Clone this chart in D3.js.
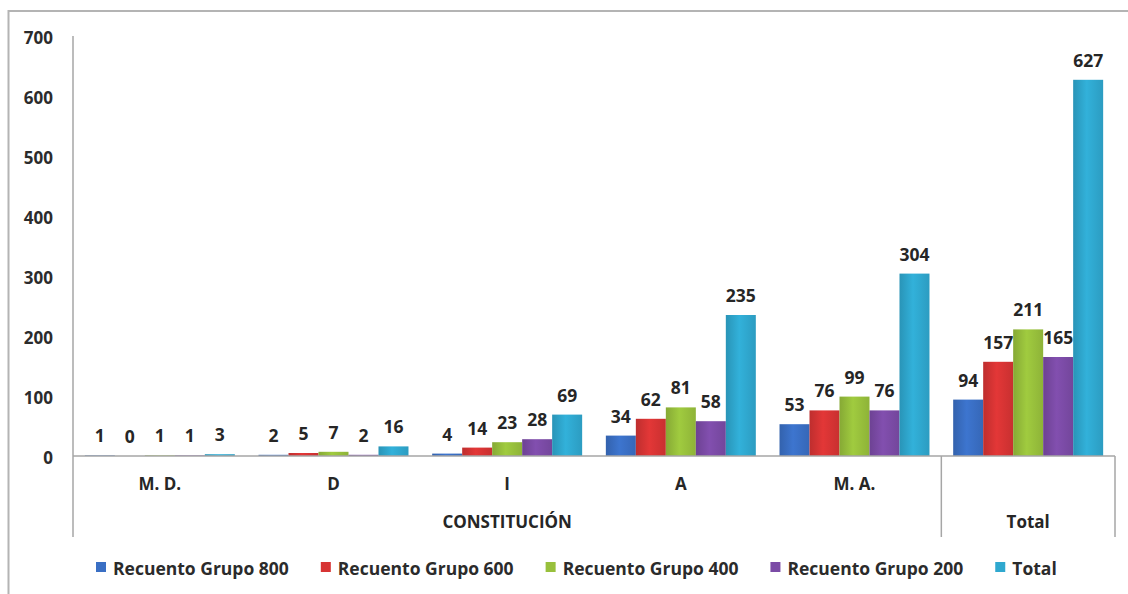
<!DOCTYPE html>
<html>
<head>
<meta charset="utf-8">
<script src="https://cdn.jsdelivr.net/npm/d3@7"></script>
<style>
  html, body { margin: 0; padding: 0; background: #fff; }
  svg { display: block; }
  text { font-family: "Open Sans", "DejaVu Sans", sans-serif; font-weight: 700; }
</style>
</head>
<body>
<svg id="chart" width="1128" height="594"></svg>
<script>
// Categories of the inner axis level
const categories = ["M. D.", "D", "I", "A", "M. A.", "Total"];
// Outer axis level: label and how many inner categories it spans
const outerGroups = ["CONSTITUCIÓN", "Total"];
const outerSpans = [5, 1];

// Series
const seriesNames = ["Recuento Grupo 800", "Recuento Grupo 600", "Recuento Grupo 400", "Recuento Grupo 200", "Total"];
const grupo800 = [1, 2, 4, 34, 53, 94];
const grupo600 = [0, 5, 14, 62, 76, 157];
const grupo400 = [1, 7, 23, 81, 99, 211];
const grupo200 = [1, 2, 28, 58, 76, 165];
const totalSerie = [3, 16, 69, 235, 304, 627];

// Y axis ticks
const yTicks = [0, 100, 200, 300, 400, 500, 600, 700];

const seriesValues = [grupo800, grupo600, grupo400, grupo200, totalSerie];
const seriesColors = ["#3a6fc4", "#d73434", "#98c03c", "#7b4ba6", "#2fa8cf"];

const svg = d3.select("#chart");

// Outer frame of the chart object
svg.append("rect")
  .attr("x", 8.5).attr("y", 11)
  .attr("width", 1300).attr("height", 700)
  .attr("fill", "none").attr("stroke", "#b4b4b4").attr("stroke-width", 2);

const plotLeft = 73, plotRight = 1115, plotTop = 36, plotBottom = 456, axisBottom = 537;

const x0 = d3.scaleBand().domain(categories).range([plotLeft, plotRight]).paddingInner(0).paddingOuter(0);
const x1 = d3.scaleBand().domain(d3.range(seriesNames.length)).range([0, x0.bandwidth()])
  .paddingInner(0).paddingOuter(0.395);
const y = d3.scaleLinear().domain([0, 700]).range([plotBottom, plotTop]);

// Horizontal shading on each bar
const defs = svg.append("defs");
seriesColors.forEach((c, i) => {
  const base = d3.color(c);
  const g = defs.append("linearGradient").attr("id", "grad" + i)
    .attr("x1", "0%").attr("x2", "100%").attr("y1", "0%").attr("y2", "0%");
  g.append("stop").attr("offset", "0%").attr("stop-color", base.darker(0.35));
  g.append("stop").attr("offset", "45%").attr("stop-color", base.brighter(0.15));
  g.append("stop").attr("offset", "100%").attr("stop-color", base.darker(0.2));
});

// Y axis labels
const yAxis = d3.axisLeft(y).tickValues(yTicks).tickSize(0).tickPadding(20);
const yg = svg.append("g").attr("transform", `translate(${plotLeft},0)`).call(yAxis);
yg.select(".domain").remove();
yg.selectAll("text")
  .attr("font-family", "'Open Sans', sans-serif")
  .attr("font-weight", 700)
  .attr("font-size", 17)
  .attr("fill", "#2b2b2b")
  .attr("dy", "0.45em");

// Bars
const catG = svg.append("g").selectAll("g").data(categories).join("g")
  .attr("transform", d => `translate(${x0(d)},0)`);

catG.selectAll("rect")
  .data((d, ci) => seriesValues.map((vals, si) => ({ si, v: vals[ci] })))
  .join("rect")
  .attr("x", d => x1(d.si))
  .attr("width", x1.bandwidth())
  .attr("y", d => y(d.v))
  .attr("height", d => y(0) - y(d.v))
  .attr("fill", d => `url(#grad${d.si})`);

// Value labels
catG.selectAll("text.val")
  .data((d, ci) => seriesValues.map((vals, si) => ({ si, v: vals[ci] })))
  .join("text")
  .attr("class", "val")
  .attr("x", d => x1(d.si) + x1.bandwidth() / 2)
  .attr("y", d => y(d.v) - 13)
  .attr("text-anchor", "middle")
  .attr("font-size", 17.5)
  .attr("fill", "#262626")
  .text(d => d.v);

// Axis lines
const axisColor = "#a6a6a6";
svg.append("line").attr("x1", plotLeft).attr("x2", plotLeft).attr("y1", plotTop).attr("y2", axisBottom)
  .attr("stroke", axisColor).attr("stroke-width", 1.5);
svg.append("line").attr("x1", plotLeft).attr("x2", plotRight).attr("y1", y(0)).attr("y2", y(0))
  .attr("stroke", axisColor).attr("stroke-width", 1.5);

// Separators between outer groups
let acc = 0;
const outerBounds = outerSpans.map(n => {
  const start = acc; acc += n;
  return [x0(categories[start]), x0(categories[acc - 1]) + x0.bandwidth()];
});
outerBounds.forEach(b => {
  svg.append("line").attr("x1", b[1]).attr("x2", b[1]).attr("y1", y(0)).attr("y2", axisBottom)
    .attr("stroke", axisColor).attr("stroke-width", 1.5);
});

// Inner category labels (the Total column shows only its outer label)
svg.append("g").selectAll("text").data(categories.slice(0, outerSpans[0])).join("text")
  .attr("x", d => x0(d) + x0.bandwidth() / 2)
  .attr("y", 490)
  .attr("text-anchor", "middle")
  .attr("font-size", 17)
  .attr("fill", "#262626")
  .text(d => d);

// Outer group labels
svg.append("g").selectAll("text").data(outerGroups).join("text")
  .attr("x", (d, i) => (outerBounds[i][0] + outerBounds[i][1]) / 2)
  .attr("y", 528)
  .attr("text-anchor", "middle")
  .attr("font-size", 17)
  .attr("fill", "#262626")
  .text(d => d);

// Legend
const legend = svg.append("g");
let lx = 96;
seriesNames.forEach((name, i) => {
  legend.append("rect").attr("x", lx).attr("y", 562).attr("width", 10).attr("height", 10)
    .attr("fill", seriesColors[i]);
  const t = legend.append("text").attr("x", lx + 17).attr("y", 575)
    .attr("font-size", 17.5).attr("fill", "#2b2b2b").text(name);
  lx += 17 + t.node().getComputedTextLength() + 32;
});
</script>
</body>
</html>
